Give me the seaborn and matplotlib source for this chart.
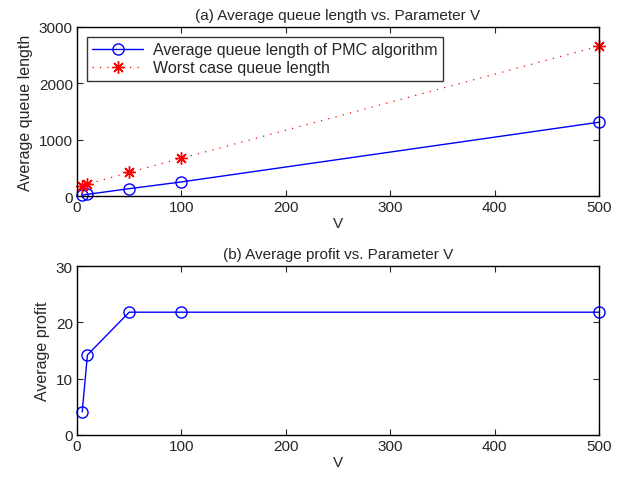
import matplotlib
matplotlib.use("Agg")
import matplotlib.pyplot as plt
import seaborn as sns
import pandas as pd

V = [5, 10, 50, 100, 500]
avg_queue = [15, 30, 130, 250, 1310]
worst_queue = [180, 210, 420, 670, 2660]
avg_profit = [4.1, 14.2, 21.8, 21.8, 21.8]

sns.set_style("white")
plt.rcParams['font.family'] = ['Liberation Sans', 'DejaVu Sans']
plt.rcParams['xtick.direction'] = 'in'
plt.rcParams['ytick.direction'] = 'in'

fig = plt.figure(figsize=(6.32, 4.81), dpi=100)
ax1 = fig.add_axes([0.1218, 0.5904, 0.826, 0.3514])
ax2 = fig.add_axes([0.1218, 0.0936, 0.826, 0.3513])

df = pd.DataFrame({"V": V, "avg": avg_queue, "worst": worst_queue, "profit": avg_profit})

sns.lineplot(data=df, x="V", y="avg", ax=ax1, color="blue", marker="o", markersize=8,
             markerfacecolor="none", markeredgecolor="blue", markeredgewidth=1, linewidth=1,
             label="Average queue length of PMC algorithm", clip_on=False)
sns.lineplot(data=df, x="V", y="worst", ax=ax1, color="red", marker=(8, 2, 0), markersize=9,
             markeredgecolor="red", markeredgewidth=1, linestyle=(0, (1, 5)), linewidth=0.9,
             label="Worst case queue length", clip_on=False)
sns.lineplot(data=df, x="V", y="profit", ax=ax2, color="blue", marker="o", markersize=8,
             markerfacecolor="none", markeredgecolor="blue", markeredgewidth=1, linewidth=1,
             clip_on=False)

for ax in (ax1, ax2):
    ax.set_xlim(0, 500)
    ax.set_xticks([0, 100, 200, 300, 400, 500])
    ax.set_xlabel("V", fontsize=11, labelpad=1)
    ax.tick_params(labelsize=11, length=4, width=0.8, top=True, right=True, bottom=True, left=True, pad=3)
    for s in ax.spines.values():
        s.set_linewidth(1.0)
        s.set_color("black")
    ax.grid(False)

ax1.set_ylim(0, 3000)
ax1.set_yticks([0, 1000, 2000, 3000])
ax1.set_ylabel("Average queue length", fontsize=11.5)
ax1.set_title("(a) Average queue length vs. Parameter V", fontsize=11, pad=6)
leg = ax1.legend(loc="upper left", fontsize=11.5, frameon=True, fancybox=False,
                 edgecolor="black", borderpad=0.35, handlelength=3.2, labelspacing=0.2,
                 borderaxespad=0.6, handletextpad=0.6)
leg.get_frame().set_linewidth(1.0)

ax2.set_ylim(0, 30)
ax2.set_yticks([0, 10, 20, 30])
ax2.set_ylabel("Average profit", fontsize=11.5)
ax2.set_title("(b) Average profit vs. Parameter V", fontsize=11, pad=6)

fig.savefig("out.png", dpi=100)
